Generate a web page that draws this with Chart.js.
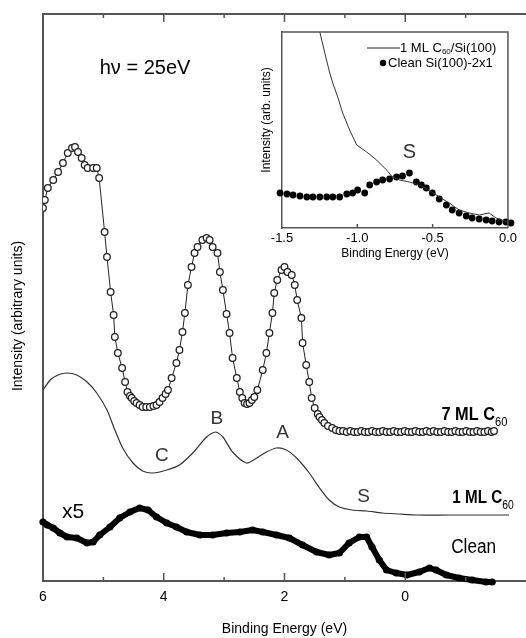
<!DOCTYPE html>
<html lang="en">
<head>
  <meta charset="UTF-8" />
  <title>Valence band spectra | C60 on Si(100)</title>
  <script src="https://cdn.jsdelivr.net/npm/chart.js"></script>
  <style>
    body {
      margin: 0;
      background: #fff;
    }
    .wrap {
      position: relative;
      width: 526px;
      height: 638px;
      overflow: hidden;
    }
    #mainChart {
      position: absolute;
      left: 0;
      top: 0;
    }
    #insetChart {
      position: absolute;
      left: 255px;
      top: 22px;
    }
  </style>
</head>
<body>
  <div class="wrap">
    <canvas id="mainChart" width="526" height="638"></canvas>
    <canvas id="insetChart" width="265" height="240"></canvas>
  </div>

  <script>
    // ---- main panel data (binding energy in eV, intensity in arbitrary units) ----
    const ml7Energy = [6.00, 5.97, 5.92, 5.83, 5.75, 5.67, 5.59, 5.52, 5.47, 5.42, 5.36, 5.31, 5.26, 5.17, 5.11, 5.07,
      4.98, 4.94, 4.88, 4.83, 4.81, 4.76, 4.69, 4.64, 4.60, 4.56, 4.53, 4.49, 4.45, 4.40, 4.35, 4.29, 4.23, 4.17, 4.12,
      4.07, 4.02, 3.97, 3.93, 3.87, 3.79, 3.74, 3.69, 3.65, 3.60, 3.54, 3.49, 3.44, 3.36, 3.29, 3.24, 3.19, 3.11, 3.07,
      3.02, 2.96, 2.91, 2.86, 2.79, 2.74, 2.70, 2.66, 2.62, 2.58, 2.54, 2.50, 2.45, 2.36, 2.30, 2.25, 2.20, 2.17, 2.12,
      2.05, 2.00, 1.95, 1.88, 1.83, 1.79, 1.72, 1.70, 1.64, 1.59, 1.55, 1.50, 1.45, 1.42, 1.38, 1.34, 1.28, 1.21,
      1.15, 1.09, 1.03, 0.97, 0.91, 0.85, 0.79, 0.73, 0.67, 0.61, 0.55, 0.49, 0.43, 0.37, 0.31, 0.25, 0.19, 0.13,
      0.07, 0.01, -0.05, -0.11, -0.17, -0.23, -0.29, -0.35, -0.41, -0.47, -0.53, -0.59, -0.65, -0.71, -0.77, -0.83,
      -0.89, -0.95, -1.01, -1.07, -1.13, -1.19, -1.25, -1.31, -1.37, -1.43, -1.47];
    const ml7Intensity = [373, 381, 393, 401, 409, 418, 428, 433, 434, 429, 423, 416, 413, 413, 413, 403,
      349, 324, 289, 266, 244, 228, 213, 199, 189, 185, 183, 180, 178, 176, 174, 174, 174, 175, 176,
      179, 183, 187, 191, 203, 218, 231, 249, 268, 296, 314, 328, 334, 341, 343, 341, 334, 328, 309,
      291, 267, 248, 223, 203, 189, 183, 178, 177, 178, 181, 184, 191, 211, 228, 248, 268, 288, 301,
      311, 314, 309, 306, 296, 281, 263, 238, 216, 199, 183, 173, 167, 164, 161, 158, 155, 153,
      151, 150, 150, 149, 150, 149, 149, 150, 149, 149, 150, 149, 149, 150, 149, 149, 150, 149,
      149, 150, 149, 149, 150, 149, 149, 150, 149, 150, 149, 149, 150, 149, 149, 150,
      149, 149, 150, 149, 149, 150, 149, 149, 150, 149, 150];

    const ml1Energy = [6.00, 5.88, 5.75, 5.60, 5.44, 5.27, 5.11, 4.94, 4.81, 4.68, 4.51, 4.35, 4.18, 3.95, 3.74,
      3.52, 3.29, 3.14, 3.02, 2.86, 2.63, 2.46, 2.30, 2.13, 1.97, 1.80, 1.59, 1.42, 1.26, 1.09, 0.88, 0.64,
      0.38, 0.10, -0.18, -0.73, -1.72];
    const ml1Intensity = [191, 201, 206, 208, 206, 199, 188, 171, 151, 133, 118, 110, 108, 111, 116,
      128, 144, 149, 144, 129, 118, 123, 129, 133, 131, 123, 108, 93, 81, 74, 71, 70,
      68, 67, 66, 66, 66];

    const cleanEnergy = [6.00, 5.93, 5.83, 5.72, 5.60, 5.44, 5.27, 5.17, 5.06, 4.89, 4.73, 4.56, 4.40, 4.26, 4.12,
      3.95, 3.79, 3.62, 3.40, 3.19, 2.96, 2.74, 2.53, 2.36, 2.13, 1.92, 1.70, 1.47, 1.26, 1.09, 0.93, 0.76,
      0.64, 0.55, 0.43, 0.31, 0.15, -0.03, -0.23, -0.40, -0.51, -0.68, -0.89, -1.11, -1.34, -1.44];
    const cleanIntensity = [59, 56, 53, 48, 44, 43, 38, 39, 46, 54, 63, 69, 73, 71, 64,
      58, 54, 49, 46, 46, 48, 49, 51, 49, 46, 43, 36, 29, 26, 28, 38, 44,
      44, 34, 21, 11, 8, 6, 9, 13, 11, 6, 3, 1, -1, -1];

    const mainTickValues = [-2, -1, 0, 1, 2, 3, 4, 5, 6];

    // ---- inset data ----
    const insetMl1Energy = [-1.27, -1.249, -1.216, -1.183, -1.163, -1.130, -1.097, -1.051, -1.004, -0.938, -0.872,
      -0.806, -0.766, -0.720, -0.654, -0.588, -0.522, -0.456, -0.390, -0.324, -0.257, -0.191, -0.125, -0.079,
      -0.039, -0.006];
    const insetMl1Intensity = [240, 196, 175, 155, 145, 131, 115, 98, 83, 76, 68,
      58, 51, 48, 46, 43, 38, 31, 25, 18, 15, 13, 15, 10,
      8, 6];

    const insetCleanEnergy = [-1.513, -1.467, -1.427, -1.381, -1.335, -1.295, -1.249, -1.203, -1.163, -1.117,
      -1.070, -1.031, -0.998, -0.951, -0.918, -0.872, -0.832, -0.786, -0.740, -0.700, -0.654, -0.608, -0.575,
      -0.542, -0.502, -0.456, -0.409, -0.370, -0.324, -0.277, -0.238, -0.191, -0.145, -0.105, -0.059, -0.013, 0.020];
    const insetCleanIntensity = [35, 34, 33, 32, 31, 31, 31, 31, 31, 31,
      34, 35, 38, 35, 43, 46, 48, 49, 51, 52, 55, 46, 43,
      40, 35, 29, 23, 18, 15, 12, 10, 9, 8, 7, 6, 6, 5];

    const AXIS = '#555';
    const SANS = '"Liberation Sans", Arial, sans-serif';

    Chart.defaults.font.family = SANS;
    Chart.defaults.color = '#000';

    function zip(xs, ys) {
      return xs.map((x, i) => ({ x: x, y: ys[i] }));
    }

    // text placed in data coordinates, optional subscript and horizontal squeeze
    function notesPlugin(notes) {
      return {
        id: 'notes',
        afterDatasetsDraw(chart) {
          const { ctx, scales: { x, y } } = chart;
          notes.forEach(n => {
            ctx.save();
            ctx.translate(x.getPixelForValue(n.x), y.getPixelForValue(n.y));
            ctx.scale(n.squeeze || 1, 1);
            ctx.font = n.font;
            ctx.fillStyle = n.color || '#000';
            ctx.textAlign = n.align || 'center';
            ctx.textBaseline = 'middle';
            ctx.fillText(n.text, 0, 0);
            if (n.sub) {
              const w = ctx.measureText(n.text).width;
              ctx.font = n.subFont;
              ctx.textAlign = 'left';
              ctx.fillText(n.sub, w, 7);
            }
            ctx.restore();
          });
        }
      };
    }

    const mainNotes = [
      { text: 'h\u03bd = 25eV', x: 4.31, y: 513, font: '20px ' + SANS },
      { text: 'x5', x: 5.50, y: 69, font: '21px ' + SANS },
      { text: 'C', x: 4.03, y: 125, font: '19px ' + SANS, color: '#333' },
      { text: 'B', x: 3.12, y: 162, font: '19px ' + SANS, color: '#333' },
      { text: 'A', x: 2.03, y: 148, font: '19px ' + SANS, color: '#333' },
      { text: 'S', x: 0.69, y: 84, font: '19px ' + SANS, color: '#333' },
      { text: '7 ML C', sub: '60', x: -0.60, y: 166, font: 'bold 19px ' + SANS, subFont: '13px ' + SANS, align: 'left', squeeze: 0.86 },
      { text: '1 ML C', sub: '60', x: -0.78, y: 83, font: 'bold 19px ' + SANS, subFont: '13px ' + SANS, align: 'left', squeeze: 0.8 },
      { text: 'Clean', x: -0.76, y: 34, font: '20px ' + SANS, align: 'left', squeeze: 0.86 }
    ];

    const mainFrame = {
      id: 'mainFrame',
      afterDraw(chart) {
        const { ctx, chartArea: a, scales: { x } } = chart;
        ctx.save();
        ctx.strokeStyle = AXIS;
        ctx.lineWidth = 2;
        ctx.beginPath();
        ctx.moveTo(a.left - 1, a.top);
        ctx.lineTo(chart.width, a.top);
        ctx.stroke();
        ctx.lineWidth = 1.5;
        mainTickValues.forEach(v => {
          if (v === 6 || v === -2) return;
          const px = x.getPixelForValue(v);
          const len = v % 2 === 0 ? 8 : 4;
          ctx.beginPath();
          ctx.moveTo(px, a.top);
          ctx.lineTo(px, a.top + len);
          ctx.moveTo(px, a.bottom);
          ctx.lineTo(px, a.bottom - len);
          ctx.stroke();
        });
        // y title
        ctx.translate(18, 316);
        ctx.rotate(-Math.PI / 2);
        ctx.font = '14px ' + SANS;
        ctx.fillStyle = '#000';
        ctx.textAlign = 'center';
        ctx.textBaseline = 'middle';
        ctx.fillText('Intensity (arbitrary units)', 0, 0);
        ctx.restore();
      }
    };

    new Chart(document.getElementById('mainChart'), {
      type: 'scatter',
      data: {
        datasets: [
          {
            label: '7 ML C60',
            data: zip(ml7Energy, ml7Intensity),
            showLine: true,
            borderColor: '#222',
            borderWidth: 1,
            pointRadius: 3.3,
            pointBackgroundColor: '#fff',
            pointBorderColor: '#222',
            pointBorderWidth: 1.3
          },
          {
            label: '1 ML C60',
            data: zip(ml1Energy, ml1Intensity),
            showLine: true,
            borderColor: '#333',
            borderWidth: 1.2,
            tension: 0.25,
            pointRadius: 0
          },
          {
            label: 'Clean',
            data: zip(cleanEnergy, cleanIntensity),
            showLine: true,
            borderColor: '#000',
            borderWidth: 6,
            borderJoinStyle: 'round',
            borderCapStyle: 'round',
            pointRadius: 3.6,
            pointBackgroundColor: '#000',
            pointBorderWidth: 0,
            clip: false
          }
        ]
      },
      options: {
        responsive: false,
        animation: false,
        layout: { autoPadding: false, padding: { top: 14, right: 0, left: 0, bottom: 0 } },
        plugins: { legend: { display: false }, tooltip: { enabled: false } },
        scales: {
          x: {
            type: 'linear',
            min: -2,
            max: 6,
            reverse: true,
            afterFit(s) {
              s.height = 57;
              s.paddingLeft = 0;
              s.paddingRight = 0;
            },
            grid: { display: false, drawTicks: false },
            border: { display: true, color: AXIS, width: 2 },
            ticks: {
              stepSize: 2,
              autoSkip: false,
              maxRotation: 0,
              padding: 8,
              font: { size: 14 },
              callback: v => (v === -2 ? '' : String(v))
            },
            title: {
              display: true,
              text: 'Binding Energy (eV)',
              font: { size: 14 },
              padding: { top: 0, bottom: 0 }
            }
          },
          y: {
            min: 0,
            max: 567,
            afterFit(s) { s.width = 43; },
            grid: { display: false, drawTicks: false },
            border: { display: true, color: AXIS, width: 2 },
            ticks: { display: false }
          }
        }
      },
      plugins: [mainFrame, notesPlugin(mainNotes)]
    });

    // ---- inset ----
    const insetNotes = [
      { text: 'S', x: -0.654, y: 76, font: '20px ' + SANS, color: '#333' }
    ];

    const insetFrame = {
      id: 'insetFrame',
      afterDraw(chart) {
        const { ctx, chartArea: a, scales: { x } } = chart;
        ctx.save();
        ctx.strokeStyle = AXIS;
        ctx.lineWidth = 1.5;
        ctx.beginPath();
        ctx.moveTo(a.left, a.top);
        ctx.lineTo(a.right, a.top);
        ctx.lineTo(a.right, a.bottom);
        ctx.stroke();
        [-1.0, -0.5].forEach(v => {
          const px = x.getPixelForValue(v);
          ctx.beginPath();
          ctx.moveTo(px, a.bottom);
          ctx.lineTo(px, a.bottom - 4);
          ctx.stroke();
        });
        // legend
        ctx.fillStyle = '#000';
        ctx.strokeStyle = '#222';
        ctx.lineWidth = 1;
        ctx.beginPath();
        ctx.moveTo(112, 26);
        ctx.lineTo(145, 26);
        ctx.stroke();
        ctx.beginPath();
        ctx.arc(128, 41, 3.2, 0, Math.PI * 2);
        ctx.fill();
        ctx.textBaseline = 'middle';
        ctx.textAlign = 'left';
        ctx.font = '13px ' + SANS;
        ctx.fillText('1 ML C', 145, 26);
        const w = ctx.measureText('1 ML C').width;
        ctx.font = '8px ' + SANS;
        ctx.fillText('60', 145 + w, 30);
        const w2 = ctx.measureText('60').width;
        ctx.font = '13px ' + SANS;
        ctx.fillText('/Si(100)', 145 + w + w2, 26);
        ctx.fillText('Clean Si(100)-2x1', 133, 41);
        // y title
        ctx.translate(12, 98);
        ctx.rotate(-Math.PI / 2);
        ctx.font = '12px ' + SANS;
        ctx.textAlign = 'center';
        ctx.fillText('Intensity (arb. units)', 0, 0);
        ctx.restore();
      }
    };

    new Chart(document.getElementById('insetChart'), {
      type: 'scatter',
      data: {
        datasets: [
          {
            label: '1 ML C60/Si(100)',
            data: zip(insetMl1Energy, insetMl1Intensity),
            showLine: true,
            borderColor: '#333',
            borderWidth: 1,
            pointRadius: 0
          },
          {
            label: 'Clean Si(100)-2x1',
            data: zip(insetCleanEnergy, insetCleanIntensity),
            showLine: false,
            pointRadius: 3.4,
            pointBackgroundColor: '#000',
            pointBorderColor: '#000',
            pointBorderWidth: 0,
            clip: false
          }
        ]
      },
      options: {
        responsive: false,
        animation: false,
        layout: { autoPadding: false, padding: { top: 10, right: 11, left: 0, bottom: 0 } },
        plugins: { legend: { display: false }, tooltip: { enabled: false } },
        scales: {
          x: {
            type: 'linear',
            min: -1.5,
            max: 0,
            afterFit(s) { s.height = 34; },
            grid: { display: false, drawTicks: false },
            border: { display: true, color: AXIS, width: 1.5 },
            ticks: {
              stepSize: 0.5,
              autoSkip: false,
              maxRotation: 0,
              padding: 3,
              font: { size: 13 },
              callback: v => v.toFixed(1)
            },
            title: {
              display: true,
              text: 'Binding Energy (eV)',
              font: { size: 12 },
              padding: { top: 0, bottom: 1 }
            }
          },
          y: {
            min: 0,
            max: 196,
            afterFit(s) { s.width = 27; },
            grid: { display: false, drawTicks: false },
            border: { display: true, color: AXIS, width: 1.5 },
            ticks: { display: false }
          }
        }
      },
      plugins: [insetFrame, notesPlugin(insetNotes)]
    });
  </script>
</body>
</html>
